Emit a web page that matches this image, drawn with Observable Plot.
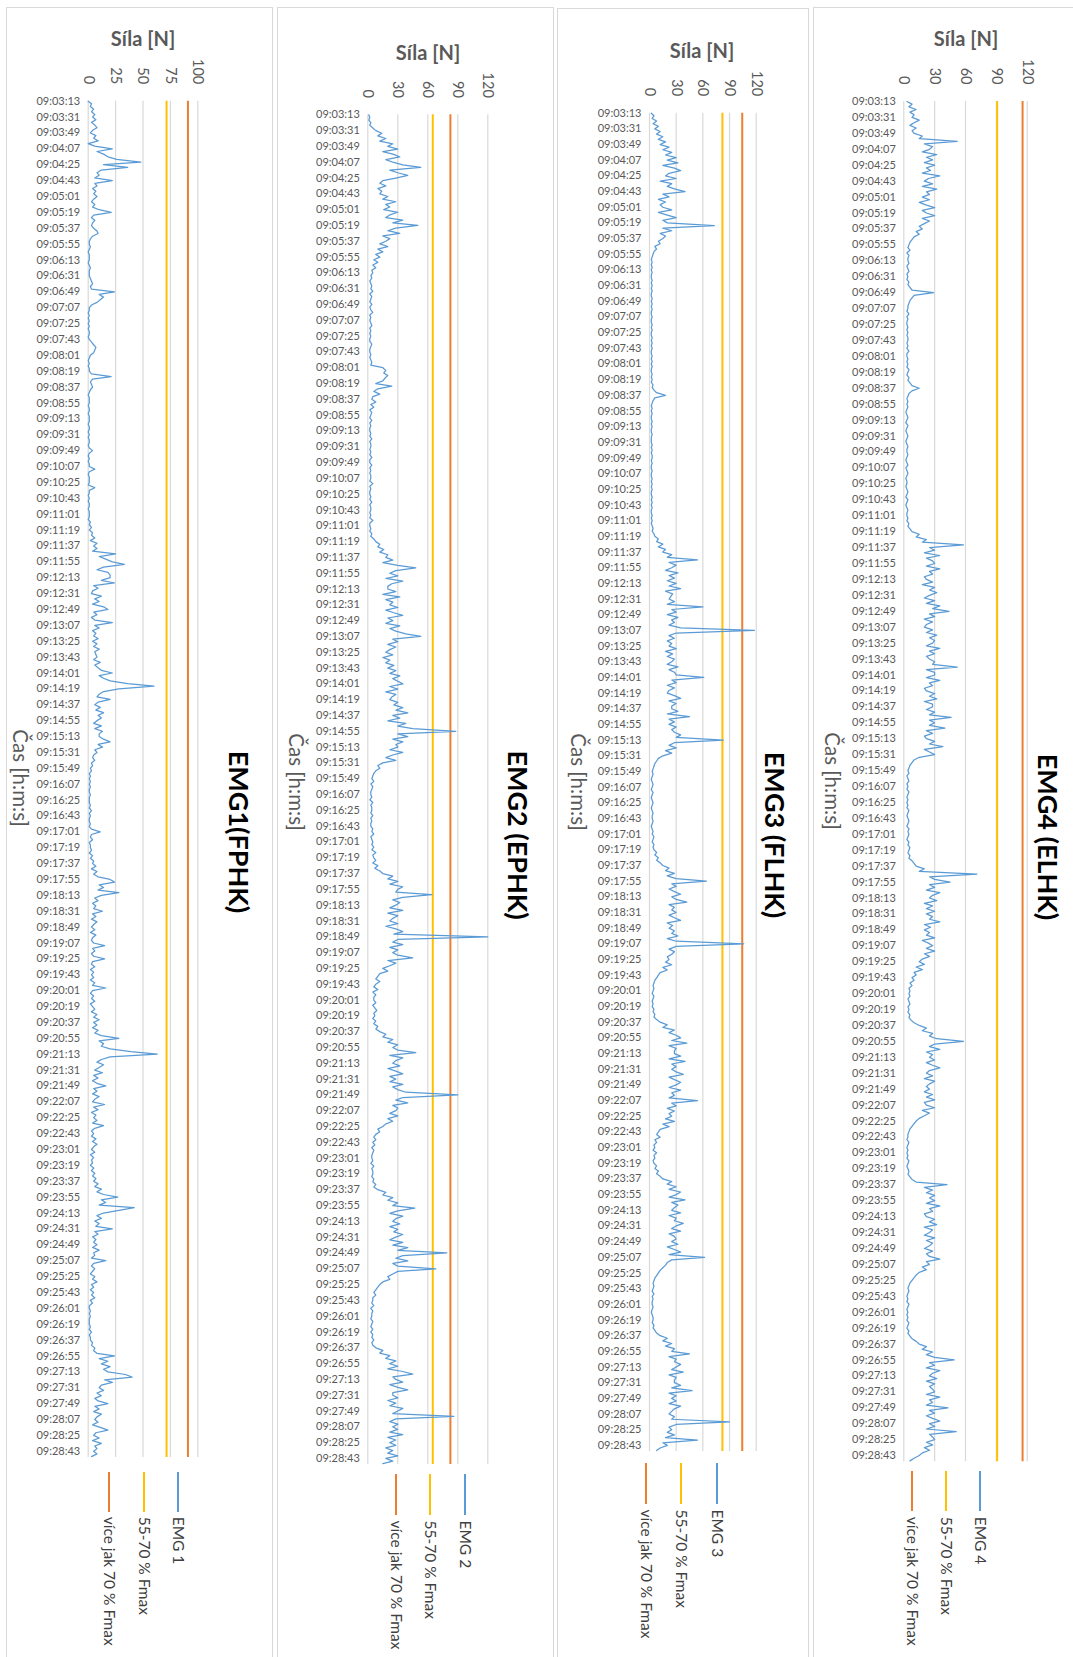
<!DOCTYPE html>
<html><head><meta charset="utf-8">
<script src="https://cdn.jsdelivr.net/npm/d3@7"></script>
<script src="https://cdn.jsdelivr.net/npm/@observablehq/plot@0.6"></script>
<style>
html,body{margin:0;padding:0;background:#fff;overflow:hidden}
#root{position:relative;width:1073px;height:1657px;overflow:hidden;background:#fff;font-family:Lato,"Open Sans",sans-serif}
.panel{position:absolute;left:0;top:0;transform-origin:0 0}
.frame{position:absolute;left:0;top:0;right:0;bottom:0;border:1px solid #d9d9d9;box-sizing:border-box}
.panel svg{position:absolute;left:0;top:0}
.lbl{position:absolute;white-space:nowrap;line-height:1}
</style></head><body><div id="root"></div>
<script>
// ---------- DATA ----------
const timeLabels = ["09:03:13","09:03:31","09:03:49","09:04:07","09:04:25","09:04:43","09:05:01","09:05:19","09:05:37","09:05:55",
"09:06:13","09:06:31","09:06:49","09:07:07","09:07:25","09:07:43","09:08:01","09:08:19","09:08:37","09:08:55",
"09:09:13","09:09:31","09:09:49","09:10:07","09:10:25","09:10:43","09:11:01","09:11:19","09:11:37","09:11:55",
"09:12:13","09:12:31","09:12:49","09:13:07","09:13:25","09:13:43","09:14:01","09:14:19","09:14:37","09:14:55",
"09:15:13","09:15:31","09:15:49","09:16:07","09:16:25","09:16:43","09:17:01","09:17:19","09:17:37","09:17:55",
"09:18:13","09:18:31","09:18:49","09:19:07","09:19:25","09:19:43","09:20:01","09:20:19","09:20:37","09:20:55",
"09:21:13","09:21:31","09:21:49","09:22:07","09:22:25","09:22:43","09:23:01","09:23:19","09:23:37","09:23:55",
"09:24:13","09:24:31","09:24:49","09:25:07","09:25:25","09:25:43","09:26:01","09:26:19","09:26:37","09:26:55",
"09:27:13","09:27:31","09:27:49","09:28:07","09:28:25","09:28:43"];
const sampleStep = 3;      // seconds between samples
const labelStep = 18;      // seconds between time labels
const timeEnd = 1537;      // seconds shown on the time axis

const titles = ["EMG1(FPHK)", "EMG2 (EPHK)", "EMG3 (FLHK)", "EMG4 (ELHK)"];
const seriesNames = ["EMG 1", "EMG 2", "EMG 3", "EMG 4"];
const legendBand1 = "55-70 % Fmax";
const legendBand2 = "více jak 70 % Fmax";
const forceMax = [100, 120, 120, 120];
const forceTicks = [[0,25,50,75,100],[0,30,60,90,120],[0,30,60,90,120],[0,30,60,90,120]];
const fmax55 = [71.5, 65, 82, 90.8];
const fmax70 = [91, 82.6, 104.3, 115.5];

const emg1 = [
0,3,2,5,3,6, 4,7,3,6,8,4, 2,7,5,9,0,6, 22,8,14,18,26,48, 14,36,12,8,10,6,
22,6,8,4,7,5, 8,5,3,6,4,10, 21,5,3,6,4,3, 5,8,9,4,2,1, 1,2,1,0,1,1,
1,0,1,2,1,1, 1,2,3,4,2,3, 24,10,14,11,8,3, 1,1,0,1,0,1, 0,1,0,1,1,0,
1,3,5,7,6,5, 2,1,0,1,0,1, 1,3,21,4,2,3, 4,2,1,0,1,1, 1,0,1,1,0,1,
1,1,0,1,1,0, 1,0,1,1,0,1, 4,1,0,1,0,1, 1,6,1,0,1,1, 1,0,6,1,1,0,
1,0,1,1,0,1, 1,1,0,2,1,3, 1,4,3,6,2,8, 5,8,4,25,10,16, 22,33,14,8,18,20,
20,12,24,5,9,4, 3,12,6,10,4,14, 18,5,8,3,6,22, 6,10,4,7,5,9, 4,8,5,10,6,7,
8,5,11,6,9,12, 22,10,14,20,36,60, 28,14,10,8,20,9, 6,11,7,14,9,12, 8,5,12,6,13,10,
10,14,20,9,13,6, 8,5,4,6,3,4, 2,3,1,2,1,2, 1,2,1,1,2,1, 1,1,2,1,3,1,
2,1,1,2,1,3, 11,3,2,4,1,2, 2,3,1,4,2,5, 4,7,3,8,5,9, 20,24,10,14,9,28,
12,6,9,4,7,5, 13,4,7,3,8,5, 3,6,2,7,4,3, 5,15,4,6,3,5, 15,4,3,6,2,5,
3,5,2,6,4,16, 4,2,5,3,6,2, 4,6,3,8,5,10, 5,8,4,9,6,12, 28,10,14,12,20,39,
63,20,12,8,14,10, 6,13,5,9,4,8, 16,5,8,4,10,6, 4,15,5,9,3,7, 5,8,4,14,6,3,
5,3,7,4,8,5, 3,6,2,5,3,4, 2,5,3,6,4,7, 5,9,6,12,8,14, 27,12,16,10,42,28,
14,8,12,6,10,7, 22,6,9,4,7,5, 8,4,10,5,6,3, 16,5,3,6,4,2, 6,4,8,3,5,2,
5,3,6,2,4,1, 1,2,1,2,1,1, 1,2,1,3,1,2, 2,4,3,6,5,8, 24,10,18,12,20,14,
18,34,40,15,22,12, 10,14,8,12,6,9, 18,6,10,5,12,8, 6,9,4,11,18,7, 5,10,4,12,6,8,
5,8,3];

const emg2 = [
1,2,1,3,2,5, 8,14,10,18,12,25, 20,30,15,26,32,18, 25,35,53,22,30,40, 28,15,12,18,10,14,
12,20,15,28,18,22, 16,30,22,18,35,25, 50,28,20,32,15,22, 18,12,20,10,15,8, 12,6,10,5,8,4,
5,3,4,2,3,4, 3,5,2,4,3,2, 4,2,3,5,2,3, 2,3,4,2,3,2, 3,2,2,4,3,2,
2,3,2,3,4,3, 15,18,16,20,17,15, 8,24,10,6,12,5, 4,8,3,6,2,4, 3,2,4,2,3,2,
2,3,2,4,2,3, 3,2,3,2,4,2, 2,4,2,3,2,3, 3,2,5,2,3,2, 2,3,2,4,2,3,
3,2,3,2,5,2, 2,3,2,4,3,6, 8,12,10,16,12,20, 18,25,15,30,48,28, 22,30,18,35,24,20,
20,28,15,32,18,25, 22,30,18,26,35,20, 25,18,32,22,28,38, 53,25,30,20,28,22, 18,25,15,22,18,26,
20,28,22,32,25,30, 35,22,30,18,28,24, 22,30,26,35,28,40, 25,32,20,38,30,45, 88,30,40,25,35,28,
30,22,35,25,18,28, 15,10,12,8,6,5, 4,6,3,5,4,3, 3,4,2,5,3,4, 4,3,5,3,4,3,
3,5,4,6,3,4, 5,4,6,4,8,5, 6,8,5,10,7,12, 15,25,20,30,22,35, 30,28,64,35,25,32,
28,22,35,20,30,25, 22,30,18,28,35,26, 120,30,25,35,22,30, 25,30,45,20,28,22, 15,20,12,10,8,12,
8,6,10,5,8,6, 6,8,5,7,9,6, 7,5,8,6,10,8, 12,18,15,25,20,30, 25,30,48,22,35,28,
25,32,20,28,35,22, 28,22,35,25,30,38, 90,35,28,40,25,30, 28,22,30,20,25,18, 15,10,12,8,6,8,
5,7,4,6,5,4, 4,5,3,6,4,5, 5,4,6,5,8,6, 10,18,15,25,20,30, 25,47,30,22,35,28,
25,32,22,30,26,35, 28,22,35,25,40,30, 79,35,28,40,25,30, 68,30,25,20,22,15, 12,10,8,6,8,5,
5,4,6,3,5,4, 4,3,5,4,3,5, 3,5,4,6,4,5, 8,15,12,22,18,28, 22,30,20,35,45,25,
28,35,22,30,40,25, 25,30,20,28,22,35, 30,25,86,28,22,30, 25,30,22,35,20,28, 22,28,18,25,20,30,
18,25,15];

const emg3 = [
2,5,3,8,4,10, 6,12,8,15,10,18, 12,22,15,25,18,30, 20,32,15,28,35,22, 18,30,12,25,20,28,
40,15,22,10,18,12, 15,25,10,20,30,15, 20,73,15,25,12,18, 15,10,12,6,8,5, 4,3,2,3,2,3,
2,3,2,2,3,2, 3,2,3,2,2,3, 2,3,2,3,2,2, 3,2,2,3,2,3, 2,2,3,2,3,2,
3,2,2,3,2,3, 2,3,2,2,3,2, 3,2,4,3,5,8, 18,6,4,3,2,3, 2,3,2,2,3,2,
3,2,2,3,2,2, 2,3,2,3,2,3, 3,2,3,2,2,3, 2,2,3,2,3,2, 3,2,2,3,2,3,
2,3,2,2,3,2, 3,2,3,4,3,5, 6,10,8,15,10,18, 15,25,20,54,22,30, 25,18,32,22,28,20,
30,22,35,18,26,24, 22,28,20,60,25,30, 20,32,25,28,22,35, 118,30,22,28,20,25, 22,30,18,26,20,28,
25,20,32,22,28,30, 61,25,30,20,28,22, 20,28,35,22,30,25, 25,32,20,45,22,28, 22,30,25,28,35,30,
83,28,22,30,18,25, 15,10,8,6,5,4, 3,4,3,2,3,4, 3,2,4,3,2,3, 4,3,2,3,4,3,
3,4,3,2,3,4, 3,5,4,3,5,4, 5,8,6,10,8,12, 15,22,18,28,20,30, 64,25,30,22,28,35,
25,30,42,22,28,25, 30,22,28,35,20,26, 22,28,25,32,20,30, 106,30,22,28,25,20, 22,18,25,15,20,12,
10,8,6,5,4,5, 4,3,5,4,3,4, 3,5,4,6,5,8, 12,20,15,28,22,30, 35,25,42,22,30,28,
28,35,22,40,25,30, 25,30,38,22,28,35, 30,22,35,25,28,22, 54,25,30,20,28,22, 25,18,28,15,22,12,
10,8,12,6,8,5, 6,4,8,5,6,4, 5,8,6,10,8,12, 15,25,20,30,22,35, 30,22,40,25,32,28,
25,35,22,30,28,38, 30,25,35,22,28,30, 25,32,20,28,35,22, 62,25,20,18,15,12, 10,8,6,5,4,5,
4,3,5,3,4,3, 3,4,3,2,3,4, 4,3,5,4,6,8, 12,20,15,25,18,28, 25,45,22,30,28,35,
30,25,38,22,30,28, 28,35,25,48,22,30, 25,30,22,35,28,25, 22,28,25,90,30,22, 25,20,28,18,54,15,
20,12,8];

const emg4 = [
3,8,5,12,6,10, 8,15,10,6,12,8, 10,18,15,52,20,28, 25,18,32,22,28,20, 30,22,26,18,35,24,
20,28,18,32,22,25, 18,25,15,22,30,18, 22,30,18,25,20,15, 18,12,15,10,8,6, 5,4,6,3,5,4,
4,5,3,4,5,3, 4,3,5,4,6,8, 29,10,8,6,5,4, 4,3,5,3,4,3, 3,4,3,4,3,4,
4,3,4,3,5,3, 3,4,3,4,3,5, 4,3,5,4,6,8, 15,8,5,4,3,4, 3,4,3,2,3,4,
3,2,4,3,2,3, 4,3,2,3,4,3, 3,4,3,2,3,4, 2,3,4,3,2,3, 3,2,3,4,3,2,
4,3,2,3,4,3, 3,4,3,5,4,6, 8,15,12,22,18,58, 25,30,20,35,22,28, 30,22,35,25,28,20,
22,28,18,30,25,32, 25,20,30,22,35,28, 44,25,30,20,28,22, 20,28,22,32,25,30, 28,22,35,25,30,22,
25,30,28,52,22,30, 30,22,35,25,28,20, 22,30,25,32,20,28, 28,22,30,25,46,25, 30,25,40,22,28,20,
22,30,25,38,20,25, 30,15,10,8,6,5, 4,5,3,4,5,3, 4,3,5,4,3,4, 3,4,3,5,4,3,
4,5,4,3,5,4, 5,4,3,5,4,6, 5,4,6,5,8,10, 12,20,15,71,25,30, 45,25,30,22,35,28,
25,32,20,28,22,30, 22,28,25,35,20,26, 20,25,22,30,18,24, 28,22,30,20,25,18, 15,20,12,18,10,12,
8,10,6,8,5,6, 5,6,4,5,6,4, 5,4,6,5,7,10, 15,22,18,28,25,32, 58,30,25,35,22,28,
25,30,22,28,35,25, 22,28,20,30,25,22, 25,20,28,22,30,20, 22,30,18,25,20,15, 12,10,8,6,5,4,
4,3,5,4,3,4, 3,4,3,5,4,3, 4,5,4,6,8,12, 42,20,28,22,30,25, 30,22,35,25,28,20,
22,30,25,32,20,28, 25,20,30,22,28,25, 20,28,22,25,35,22, 25,18,22,15,12,10, 8,6,5,4,5,4,
3,4,3,5,4,3, 4,3,4,3,5,4, 3,5,4,6,8,12, 15,22,18,28,22,30, 49,25,30,22,35,28,
25,32,22,30,25,28, 30,22,35,25,28,22, 43,25,30,22,28,35, 25,30,22,51,25,28, 30,22,28,20,25,18,
15,10,6];

const emgData = [emg1, emg2, emg3, emg4];

// ---------- LAYOUT (final-image pixels) ----------
const layout = [
  {L:6,   T:7, W:267,   H:1700, y0:100.7, pps:0.8824, x0:88.7,  xMax:198.3,
   title:[239,832], force:[143,38],   time:[21,778],  leg:[178.3,144,109.3], sw:[1471.7,1511.7], tx:1516.7},
  {L:277, T:7, W:277,   H:1700, y0:114.3, pps:0.8782, x0:368.3, xMax:488.3,
   title:[518,835], force:[428,51.7], time:[297,782], leg:[465.2,430.1,396.4], sw:[1474,1515.4], tx:1520.5},
  {L:557.5,T:8,W:251.5, H:1700, y0:112.7, pps:0.8707, x0:650,   xMax:756.7,
   title:[775,835], force:[702,50],   time:[579,782], leg:[716.6,681.5,646.4], sw:[1462.7,1504], tx:1509.5},
  {L:813, T:7, W:270,   H:1700, y0:101,   pps:0.885,  x0:904.3, xMax:1027.7,
   title:[1048,837], force:[965.7,37.7], time:[833,781], leg:[980,946,911.7], sw:[1471,1511], tx:1516.7}
];
const COL_EMG = "#5B9BD5", COL_55 = "#FFC000", COL_70 = "#ED7D31", COL_GRID = "#d9d9d9";
const tickTimes = timeLabels.map((_, k) => k * labelStep);

const root = document.getElementById("root");

layout.forEach((g, p) => {
  const W = g.W, H = g.H;
  const box = document.createElement("div");
  box.className = "panel";
  box.style.width = H + "px";
  box.style.height = W + "px";
  box.style.transform = `translate(${g.L + W}px, ${g.T}px) rotate(90deg)`;
  root.appendChild(box);
  const frame = document.createElement("div");
  frame.className = "frame";
  box.appendChild(frame);

  const mL = g.y0 - g.T;
  const plotW = timeEnd * g.pps;
  const mR = H - mL - plotW;
  const mB = g.x0 - g.L;
  const mT = g.L + W - g.xMax;
  const data = emgData[p].map((v, i) => ({t: i * sampleStep, v}));

  const chart = Plot.plot({
    width: H, height: W,
    marginLeft: mL, marginRight: mR, marginTop: mT, marginBottom: mB,
    x: {domain: [0, timeEnd]},
    y: {domain: [0, forceMax[p]]},
    style: {fontFamily: "Lato, 'Open Sans', sans-serif", background: "transparent", overflow: "visible"},
    marks: [
      Plot.ruleY(forceTicks[p], {stroke: COL_GRID, strokeWidth: 1.2}),
      Plot.ruleY([fmax55[p]], {stroke: COL_55, strokeWidth: 2}),
      Plot.ruleY([fmax70[p]], {stroke: COL_70, strokeWidth: 2}),
      Plot.line(data, {x: "t", y: "v", stroke: COL_EMG, strokeWidth: 1.25, strokeLinejoin: "round"}),
      Plot.axisX({ticks: tickTimes, tickFormat: t => timeLabels[Math.round(t / labelStep)], tickRotate: -90,
        tickSize: 0, tickPadding: 8, fontSize: 11, color: "#595959", label: null}),
      Plot.axisY({ticks: forceTicks[p], tickSize: 0, tickPadding: 17, fontSize: 14.5, color: "#595959", label: null})
    ]
  });
  box.appendChild(chart);

  const toU = y => y - g.T;
  const toV = x => g.L + W - x;
  function addLabel(text, x, y, css, rot) {
    const d = document.createElement("div");
    d.className = "lbl";
    d.textContent = text;
    d.style.left = toU(y) + "px";
    d.style.top = toV(x) + "px";
    d.style.transform = "translate(-50%,-50%)" + (rot ? ` rotate(${rot}deg)` : "");
    Object.assign(d.style, css);
    box.appendChild(d);
  }
  addLabel(titles[p], g.title[0], g.title[1], {fontSize: "27px", fontWeight: "bold", color: "#000"});
  addLabel("Síla [N]", g.force[0], g.force[1], {fontSize: "20px", fontWeight: "bold", color: "#595959"}, -90);
  addLabel("Čas [h:m:s]", g.time[0], g.time[1], {fontSize: "20.5px", color: "#595959"});

  const names = [seriesNames[p], legendBand1, legendBand2];
  const cols = [COL_EMG, COL_55, COL_70];
  names.forEach((nm, i) => {
    const v = toV(g.leg[i]);
    const sw = document.createElement("div");
    sw.style.cssText = `position:absolute;left:${toU(g.sw[0])}px;top:${v - 1}px;width:${g.sw[1] - g.sw[0]}px;height:2px;background:${cols[i]}`;
    box.appendChild(sw);
    const t = document.createElement("div");
    t.className = "lbl";
    t.textContent = nm;
    t.style.cssText += `left:${toU(g.tx)}px;top:${v}px;transform:translateY(-50%);font-size:15.5px;color:#404040`;
    box.appendChild(t);
  });
});
</script>
</body></html>
